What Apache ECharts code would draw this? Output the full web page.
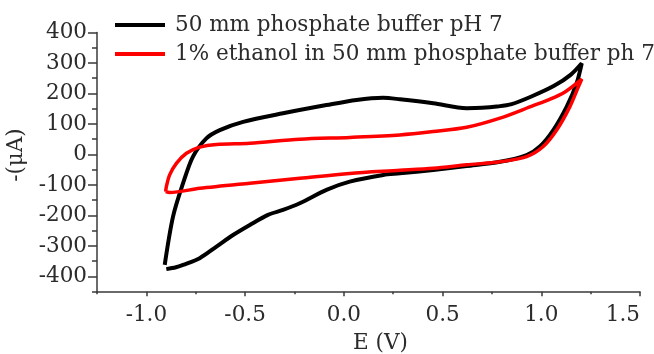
<!DOCTYPE html>
<html><head><meta charset="utf-8">
<script src="https://cdn.jsdelivr.net/npm/echarts@6/dist/echarts.min.js"></script>
<style>html,body{margin:0;padding:0;background:#fff}#c{width:654px;height:354px}</style>
</head><body><div id="c"></div>
<script>
// Series names
const seriesNames = ["50 mm phosphate buffer pH 7", "1% ethanol in 50 mm phosphate buffer ph 7"];
// Black loop: E (V)
const bufferE = [-0.899,-0.85,-0.814,-0.73,-0.645,-0.561,-0.476,-0.384,-0.308,-0.223,-0.088,0.03,0.2,0.284,0.453,0.622,0.791,0.926,0.993,1.061,1.129,1.179,1.205,1.15,1.065,0.95,0.85,0.774,0.7,0.622,0.453,0.284,0.199,0.064,-0.088,-0.308,-0.51,-0.628,-0.696,-0.764,-0.814,-0.865,-0.907];
// Black loop: -(µA)
const bufferI = [-376,-370,-362,-340,-302,-264,-231,-198,-182,-160,-116,-89,-67,-62,-51,-38,-24,-2,26,80,157,233,299,262,225,190,165,157,153,152,168,181,186,179,162,135,107,80,53,-7,-94,-204,-362];
// Red loop: E (V)
const ethanolE = [-0.902,-0.882,-0.73,-0.476,-0.223,0.03,0.284,0.453,0.622,0.791,0.926,1.01,1.078,1.145,1.188,1.205,1.12,1.04,0.959,0.791,0.622,0.453,0.284,0.03,-0.223,-0.476,-0.645,-0.73,-0.797,-0.848,-0.882,-0.899,-0.902];
// Red loop: -(µA)
const ethanolI = [-122,-125,-111,-94,-78,-62,-52,-45,-34,-24,-7,26,80,157,222,247,205,180,160,119,89,75,64,56,50,37,33,24,4,-29,-67,-106,-122];
// Tick labels
const xLabelValues = [-1.0,-0.5,0.0,0.5,1.0,1.5];
const xMinorValues = [-1.25,-0.75,-0.25,0.25,0.75,1.25];
const yLabelValues = [-400,-300,-200,-100,0,100,200,300,400];
const yMinorValues = [-450,-350,-250,-150,-50,50,150,250,350];

function pairs(xs, ys){ return xs.map((x,i)=>[x, ys[i]]); }

const FONT = "DejaVu Serif";
const axisColor = "#3a3a3a";
const textColor = "#2b2b2b";
const FS = 21.5;

const chart = echarts.init(document.getElementById('c'), null, {renderer:'canvas'});
chart.setOption({
  animation:false,
  backgroundColor:'#fff',
  grid:{left:97, right:14, top:32.5, bottom:62.3, containLabel:false, outerBoundsMode:'none'},
  legend:{
    orient:'vertical', left:110, top:9, itemGap:7,
    icon:'rect', itemWidth:50, itemHeight:4,
    textStyle:{fontFamily:FONT, fontSize:FS, color:textColor, padding:[0,0,0,5], lineHeight:22},
    data:seriesNames
  },
  xAxis:[{
    type:'value', min:-1.25, max:1.5, interval:0.25,
    name:'E (V)', nameLocation:'middle', nameGap:41,
    nameTextStyle:{fontFamily:FONT, fontSize:FS, color:textColor, padding:[0,0,0,24]},
    axisLine:{show:true, onZero:false, lineStyle:{color:axisColor, width:1.5}},
    axisTick:{show:true, length:4.5, lineStyle:{color:axisColor, width:1.5}, customValues:xLabelValues},
    axisLabel:{fontFamily:FONT, fontSize:FS, color:textColor, margin:13, customValues:xLabelValues,
      alignMaxLabel:'right', formatter:v=>v.toFixed(1)},
    splitLine:{show:false}
  },{
    type:'value', min:-1.25, max:1.5, interval:0.25, position:'bottom', offset:0,
    axisLine:{show:false, onZero:false},
    axisTick:{show:true, length:2.5, lineStyle:{color:axisColor, width:1.5}, customValues:xMinorValues},
    axisLabel:{show:false, customValues:xMinorValues}, splitLine:{show:false}
  }],
  yAxis:[{
    type:'value', min:-450, max:400, interval:50,
    name:'-(μA)', nameLocation:'middle', nameGap:52, nameRotate:90,
    nameTextStyle:{fontFamily:FONT, fontSize:FS, color:textColor, padding:[0,0,0,14]},
    axisLine:{show:true, onZero:false, lineStyle:{color:axisColor, width:1.5}},
    axisTick:{show:true, length:9, lineStyle:{color:axisColor, width:1.5}, customValues:yLabelValues},
    axisLabel:{fontFamily:FONT, fontSize:FS, color:textColor, margin:10, customValues:yLabelValues},
    splitLine:{show:false}
  },{
    type:'value', min:-450, max:400, interval:50, position:'left', offset:0,
    axisLine:{show:false, onZero:false},
    axisTick:{show:true, length:5, lineStyle:{color:axisColor, width:1.5}, customValues:yMinorValues},
    axisLabel:{show:false, customValues:yMinorValues}, splitLine:{show:false}
  }],
  series:[{
    name:seriesNames[0], type:'line', data:pairs(bufferE, bufferI), smooth:0.3,
    showSymbol:false, xAxisIndex:0, yAxisIndex:0,
    lineStyle:{color:'#000', width:4}, itemStyle:{color:'#000'}
  },{
    name:seriesNames[1], type:'line', data:pairs(ethanolE, ethanolI), smooth:0.3,
    showSymbol:false, xAxisIndex:0, yAxisIndex:0,
    lineStyle:{color:'#ff0000', width:3.5}, itemStyle:{color:'#ff0000'}
  }]
});
</script></body></html>
